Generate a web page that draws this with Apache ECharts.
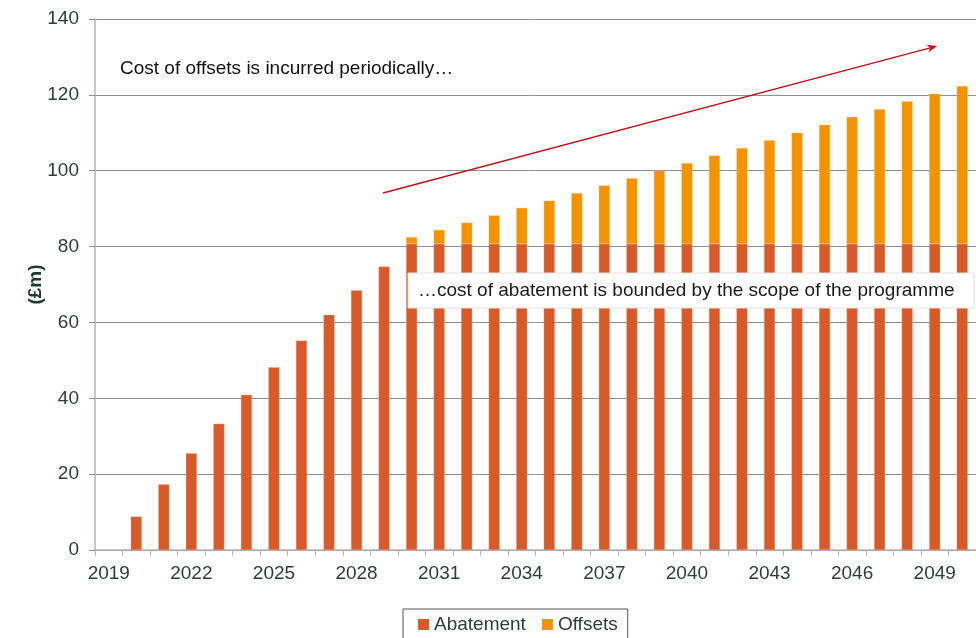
<!DOCTYPE html>
<html>
<head>
<meta charset="utf-8">
<script src="https://cdn.jsdelivr.net/npm/echarts@6/dist/echarts.min.js"></script>
<style>
  html, body { margin: 0; padding: 0; background: #ffffff; }
  #chart { width: 976px; height: 638px; }
</style>
</head>
<body>
<div id="chart"></div>
<script>
// Years on the category axis
const years = [];
for (let y = 2019; y <= 2050; y++) years.push(String(y));

// Annual cost of abatement (£m)
const abatement = [null, 8.8, 17.3, 25.5, 33.3, 40.9, 48.2, 55.2, 62.0, 68.5, 74.7,
  80.7, 80.7, 80.7, 80.7, 80.7, 80.7, 80.7, 80.7, 80.7, 80.7, 80.7,
  80.7, 80.7, 80.7, 80.7, 80.7, 80.7, 80.7, 80.7, 80.7, 80.7];

// Annual cost of offsets (£m), stacked on top of abatement
const offsets = [null, null, null, null, null, null, null, null, null, null, null,
  1.8, 3.7, 5.6, 7.5, 9.5, 11.4, 13.4, 15.4, 17.3, 19.3, 21.3,
  23.3, 25.3, 27.3, 29.3, 31.4, 33.5, 35.5, 37.6, 39.6, 41.6];

const seriesNames = ['Abatement', 'Offsets'];
const noteOffsets = 'Cost of offsets is incurred periodically…';
const noteAbatement = '…cost of abatement is bounded by the scope of the programme';

const FONT = '"Liberation Sans", Arial, sans-serif';
const FS = 19;
const LABEL_COLOR = '#2E3D37';

// Arrow geometry for the rising-cost annotation
const arrowStart = [383, 193];
const arrowEnd = [937, 46];
const dx = arrowEnd[0] - arrowStart[0], dy = arrowEnd[1] - arrowStart[1];
const len = Math.sqrt(dx * dx + dy * dy);
const ux = dx / len, uy = dy / len;
const headLen = 10, headW = 4;
const baseX = arrowEnd[0] - ux * headLen, baseY = arrowEnd[1] - uy * headLen;
const arrowHead = [
  arrowEnd,
  [baseX - uy * headW, baseY + ux * headW],
  [arrowEnd[0] - ux * headLen * 0.7, arrowEnd[1] - uy * headLen * 0.7],
  [baseX + uy * headW, baseY - ux * headW]
];

const chart = echarts.init(document.getElementById('chart'), null, { renderer: 'canvas' });

chart.setOption({
  animation: false,
  backgroundColor: '#ffffff',
  textStyle: { fontFamily: FONT },
  grid: { left: 95, top: 19, width: 889, height: 531, containLabel: false },
  legend: {
    data: seriesNames,
    left: 403,
    top: 609,
    icon: 'rect',
    itemWidth: 11,
    itemHeight: 11,
    itemGap: 16,
    padding: [6, 10, 6, 15],
    borderColor: '#555555',
    borderWidth: 1,
    itemStyle: { borderWidth: 0 },
    textStyle: { fontSize: FS, color: LABEL_COLOR, fontFamily: FONT }
  },
  xAxis: {
    type: 'category',
    data: years,
    boundaryGap: true,
    axisLine: { lineStyle: { color: '#B4B4BC', width: 1.5 } },
    axisTick: { show: true, interval: 0, length: 6, lineStyle: { color: '#B4B4BC' } },
    axisLabel: { interval: 2, margin: 14, fontSize: FS, color: LABEL_COLOR, fontFamily: FONT }
  },
  yAxis: {
    type: 'value',
    min: 0,
    max: 140,
    interval: 20,
    name: '(£m)',
    nameLocation: 'middle',
    nameGap: 50,
    nameRotate: 90,
    nameMoveOverlap: false,
    nameTextStyle: { fontSize: FS, fontWeight: 'bold', color: '#1E3A2E', fontFamily: FONT },
    axisLine: { show: true, lineStyle: { color: '#B4B4BC', width: 1.5 } },
    axisTick: { show: true, length: 6, lineStyle: { color: '#8E8E96' } },
    axisLabel: { margin: 16, fontSize: FS, color: LABEL_COLOR, fontFamily: FONT },
    splitLine: { lineStyle: { color: '#8E8E96', width: 1 } }
  },
  series: [
    {
      name: seriesNames[0],
      type: 'bar',
      stack: 'cost',
      data: abatement,
      barWidth: 11,
      z: 2,
      itemStyle: { color: '#D95A29', borderColor: '#E9A58A', borderWidth: 0.4 }
    },
    {
      name: seriesNames[1],
      type: 'bar',
      stack: 'cost',
      data: offsets,
      barWidth: 11,
      z: 2,
      itemStyle: { color: '#F39300', borderColor: '#F8C878', borderWidth: 0.4 }
    }
  ],
  graphic: [
    {
      type: 'text',
      left: 120,
      top: 59,
      z: 100,
      style: { text: noteOffsets, font: FS + 'px ' + FONT, fill: '#111111' }
    },
    {
      type: 'line',
      z: 100,
      shape: { x1: arrowStart[0], y1: arrowStart[1], x2: baseX + ux * 3, y2: baseY + uy * 3 },
      style: { stroke: '#C0101A', lineWidth: 1.3 }
    },
    {
      type: 'polygon',
      z: 100,
      shape: { points: arrowHead },
      style: { fill: '#C0101A' }
    },
    {
      type: 'rect',
      z: 100,
      zlevel: 1,
      shape: { x: 408, y: 273, width: 566, height: 35 },
      style: { fill: '#ffffff', stroke: '#E0E0E0', lineWidth: 1 }
    },
    {
      type: 'text',
      z: 101,
      zlevel: 1,
      x: 418,
      y: 281,
      style: { text: noteAbatement, font: FS + 'px ' + FONT, fill: '#1a1a1a' }
    }
  ]
});
</script>
</body>
</html>
